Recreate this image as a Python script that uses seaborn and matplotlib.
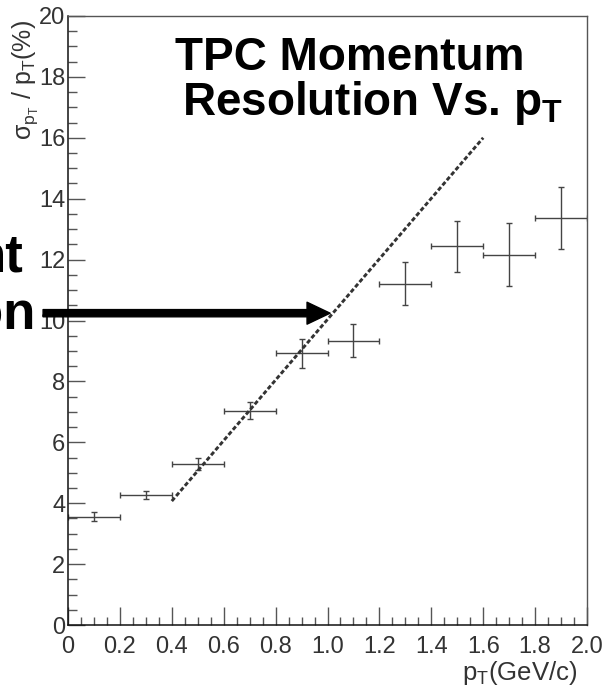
import numpy as np
import pandas as pd
import matplotlib
matplotlib.use("Agg")
import matplotlib.pyplot as plt
import seaborn as sns
from matplotlib.ticker import MultipleLocator

# data
pt_center = [0.1, 0.3, 0.5, 0.7, 0.9, 1.1, 1.3, 1.5, 1.7, 1.9]
pt_halfwidth = [0.1] * 10
resolution = [3.56, 4.27, 5.29, 7.04, 8.92, 9.34, 11.21, 12.44, 12.16, 13.37]
resolution_err = [0.15, 0.14, 0.19, 0.27, 0.47, 0.53, 0.71, 0.84, 1.03, 1.03]

fit_pt = [0.4, 1.6]
fit_res = [4.07, 16.0]

arrow_y = 10.24
arrow_from = -0.096
arrow_to = 1.01

sns.set_style("ticks")
plt.rcParams["font.family"] = ["Liberation Sans", "DejaVu Sans"]
plt.rcParams["mathtext.fontset"] = "custom"
plt.rcParams["mathtext.rm"] = "Liberation Sans"
plt.rcParams["mathtext.it"] = "Liberation Sans:italic"
plt.rcParams["mathtext.bf"] = "Liberation Sans:bold"

DPI = 100
fig = plt.figure(figsize=(6.08, 6.91), dpi=DPI)
ax = fig.add_axes([68 / 608, 66 / 691, (587 - 68) / 608, (625 - 16) / 691])

df = pd.DataFrame({"pt": pt_center, "res": resolution})

# points with bin-width / stat errors
ax.errorbar(df["pt"], df["res"], xerr=pt_halfwidth, yerr=resolution_err,
            fmt="none", ecolor="#444444", elinewidth=1.0, capsize=2.5,
            capthick=1.0, zorder=2)

# dashed trend line
sns.lineplot(x=fit_pt, y=fit_res, ax=ax, color="#333333", lw=2.1,
             linestyle=(0, (1.5, 0.8)), zorder=3)

# arrow
ax.annotate("", xy=(arrow_to, arrow_y), xytext=(arrow_from, arrow_y),
            xycoords="data", textcoords="data", annotation_clip=False,
            arrowprops=dict(arrowstyle="simple,head_length=1.66,head_width=1.58,tail_width=0.52",
                            mutation_scale=10, color="black", shrinkA=0, shrinkB=0),
            zorder=5)

ax.set_xlim(0, 2.0)
ax.set_ylim(0, 20)
ax.xaxis.set_major_locator(MultipleLocator(0.2))
ax.xaxis.set_minor_locator(MultipleLocator(0.05))
ax.yaxis.set_major_locator(MultipleLocator(2))
ax.yaxis.set_minor_locator(MultipleLocator(0.5))
ax.set_xticks(np.arange(0, 2.01, 0.2))
ax.set_xticklabels(["0", "0.2", "0.4", "0.6", "0.8", "1.0", "1.2", "1.4", "1.6", "1.8", "2.0"])
ax.tick_params(axis="both", which="both", direction="in", color="#555555",
               width=1.0, labelcolor="#333333", labelsize=17)
ax.tick_params(axis="y", which="major", length=12, pad=2)
ax.tick_params(axis="y", which="minor", length=6.5)
ax.tick_params(axis="x", which="major", length=13, pad=8)
ax.tick_params(axis="x", which="minor", length=6)
ax.set_xlabel("")
ax.set_ylabel("")

for s in ["left", "bottom"]:
    ax.spines[s].set_color("#111111")
    ax.spines[s].set_linewidth(1.1)
for s in ["top", "right"]:
    ax.spines[s].set_visible(True)
    ax.spines[s].set_color("#555555")
    ax.spines[s].set_linewidth(1.0)

# axis titles, ROOT style
fig.text(25 / 608, 1 - 20 / 691, r"$\mathregular{\sigma_{p_{T}}\ /\ p_{T}(\%)}$",
         rotation=90, ha="center", va="top", fontsize=18, color="#333333")
fig.text(577 / 608, 11 / 691, r"p$\mathregular{_{T}}$(GeV/c)", ha="right",
         va="baseline", fontsize=18.5, color="#333333")

# big labels (the left pair is cut by the figure edge, as in the original)
fig.text(175 / 608, 1 - 70 / 691, "TPC Momentum", ha="left", va="baseline",
         fontsize=33, fontweight="bold", color="black")
fig.text(182 / 608, 1 - 115 / 691, r"Resolution Vs. p$_{\mathbf{T}}$", ha="left",
         va="baseline", fontsize=33, fontweight="bold", color="black")
fig.text(23 / 608, 1 - 271 / 691, "nt", ha="right", va="baseline",
         fontsize=38, fontweight="bold", color="black")
fig.text(35 / 608, 1 - 330 / 691, "on", ha="right", va="baseline",
         fontsize=38, fontweight="bold", color="black")

fig.savefig("out.png", dpi=DPI)
